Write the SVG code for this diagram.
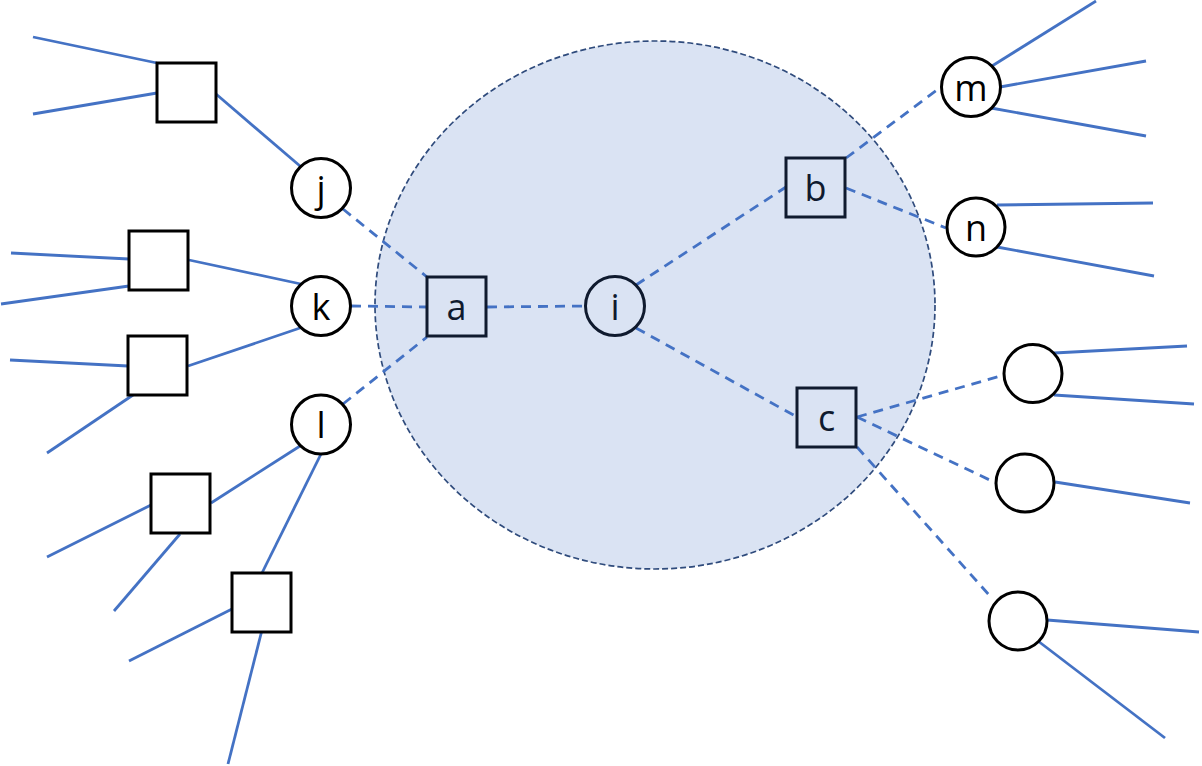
<svg xmlns="http://www.w3.org/2000/svg" width="1202" height="766" viewBox="0 0 1202 766">
<style>
.solid{stroke:#4472C4;stroke-width:2.8;fill:none}
.dash{stroke:#4472C4;stroke-width:2.8;fill:none;stroke-dasharray:10 7}
.out{fill:#FFFFFF;stroke:#000000;stroke-width:3}
.in{fill:none;stroke:#0F1A2E;stroke-width:3}
.lbl{font-family:"Open Sans","Noto Sans",sans-serif;font-size:36px;text-anchor:middle;dominant-baseline:central}
.lo{fill:#000000}
.li{fill:#0F1A2E}
</style>
<ellipse id="region" cx="655" cy="305" rx="280" ry="264" fill="#DAE3F3" stroke="#2F4B7C" stroke-width="1.7" stroke-dasharray="6 3"/>
<g id="connectors">
<line class="solid" x1="33" y1="37" x2="157" y2="63"/>
<line class="solid" x1="33" y1="114" x2="157" y2="93"/>
<line class="solid" x1="216" y1="94" x2="300" y2="166"/>
<line class="solid" x1="11" y1="253" x2="129" y2="259"/>
<line class="solid" x1="1" y1="304" x2="129" y2="286"/>
<line class="solid" x1="189" y1="260" x2="301" y2="284"/>
<line class="solid" x1="10" y1="360" x2="128" y2="366"/>
<line class="solid" x1="188" y1="366" x2="300" y2="328"/>
<line class="solid" x1="47" y1="453" x2="133" y2="395"/>
<line class="solid" x1="211" y1="503" x2="300" y2="446"/>
<line class="solid" x1="321" y1="454" x2="262" y2="573"/>
<line class="solid" x1="47" y1="557" x2="151" y2="505"/>
<line class="solid" x1="114" y1="611" x2="180" y2="534"/>
<line class="solid" x1="129" y1="661" x2="232" y2="609"/>
<line class="solid" x1="262" y1="630" x2="228" y2="764"/>
<line class="solid" x1="992" y1="66" x2="1096" y2="1"/>
<line class="solid" x1="1000" y1="87" x2="1146" y2="61"/>
<line class="solid" x1="991" y1="108" x2="1146" y2="136"/>
<line class="solid" x1="997" y1="205" x2="1153" y2="203"/>
<line class="solid" x1="997" y1="247" x2="1154" y2="276"/>
<line class="solid" x1="1054" y1="353" x2="1187" y2="346"/>
<line class="solid" x1="1054" y1="395" x2="1194" y2="404"/>
<line class="solid" x1="1055" y1="482" x2="1190" y2="503"/>
<line class="solid" x1="1047" y1="620" x2="1199" y2="632"/>
<line class="solid" x1="1038" y1="641" x2="1165" y2="738"/>
<line class="dash" x1="343" y1="209" x2="427" y2="277"/>
<line class="dash" x1="351" y1="306" x2="427" y2="307"/>
<line class="dash" x1="343" y1="404" x2="427" y2="337"/>
<line class="dash" x1="487" y1="307" x2="585" y2="306"/>
<line class="dash" x1="636" y1="285" x2="786" y2="187"/>
<line class="dash" x1="636" y1="328" x2="797" y2="417"/>
<line class="dash" x1="846" y1="158" x2="941" y2="87"/>
<line class="dash" x1="846" y1="188" x2="946" y2="228"/>
<line class="dash" x1="857" y1="417" x2="1004" y2="375"/>
<line class="dash" x1="857" y1="417" x2="996" y2="483"/>
<line class="dash" x1="857" y1="447" x2="990" y2="596"/>
</g>
<g id="sq1"><rect class="out" x="157" y="63" width="59" height="59"/></g>
<g id="j"><circle class="out" cx="321" cy="188" r="29.5"/><text class="lbl lo" x="321" y="188">j</text></g>
<g id="sq2"><rect class="out" x="129" y="231" width="59" height="59"/></g>
<g id="k"><circle class="out" cx="321" cy="306" r="29.5"/><text class="lbl lo" x="321" y="306">k</text></g>
<g id="sq3"><rect class="out" x="128" y="336" width="59" height="59"/></g>
<g id="l"><circle class="out" cx="321" cy="424.5" r="29.5"/><text class="lbl lo" x="321" y="424.5">l</text></g>
<g id="sq4"><rect class="out" x="151" y="474" width="59" height="59"/></g>
<g id="sq5"><rect class="out" x="232" y="573" width="59" height="59"/></g>
<g id="a"><rect class="in" x="427" y="277" width="59" height="59"/><text class="lbl li" x="456.5" y="306.5">a</text></g>
<g id="i"><circle class="in" cx="615" cy="306" r="29.5"/><text class="lbl li" x="615" y="306">i</text></g>
<g id="b"><rect class="in" x="786" y="158" width="59" height="59"/><text class="lbl li" x="815.5" y="187.5">b</text></g>
<g id="c"><rect class="in" x="797" y="388" width="59" height="59"/><text class="lbl li" x="826.5" y="417.5">c</text></g>
<g id="m"><circle class="out" cx="971" cy="87" r="29.5"/><text class="lbl lo" x="971" y="87">m</text></g>
<g id="n"><circle class="out" cx="976" cy="227" r="29"/><text class="lbl lo" x="976" y="227">n</text></g>
<g id="o1"><circle class="out" cx="1033" cy="373.5" r="29"/></g>
<g id="o2"><circle class="out" cx="1025" cy="483" r="29"/></g>
<g id="o3"><circle class="out" cx="1018" cy="621" r="29"/></g>
</svg>
